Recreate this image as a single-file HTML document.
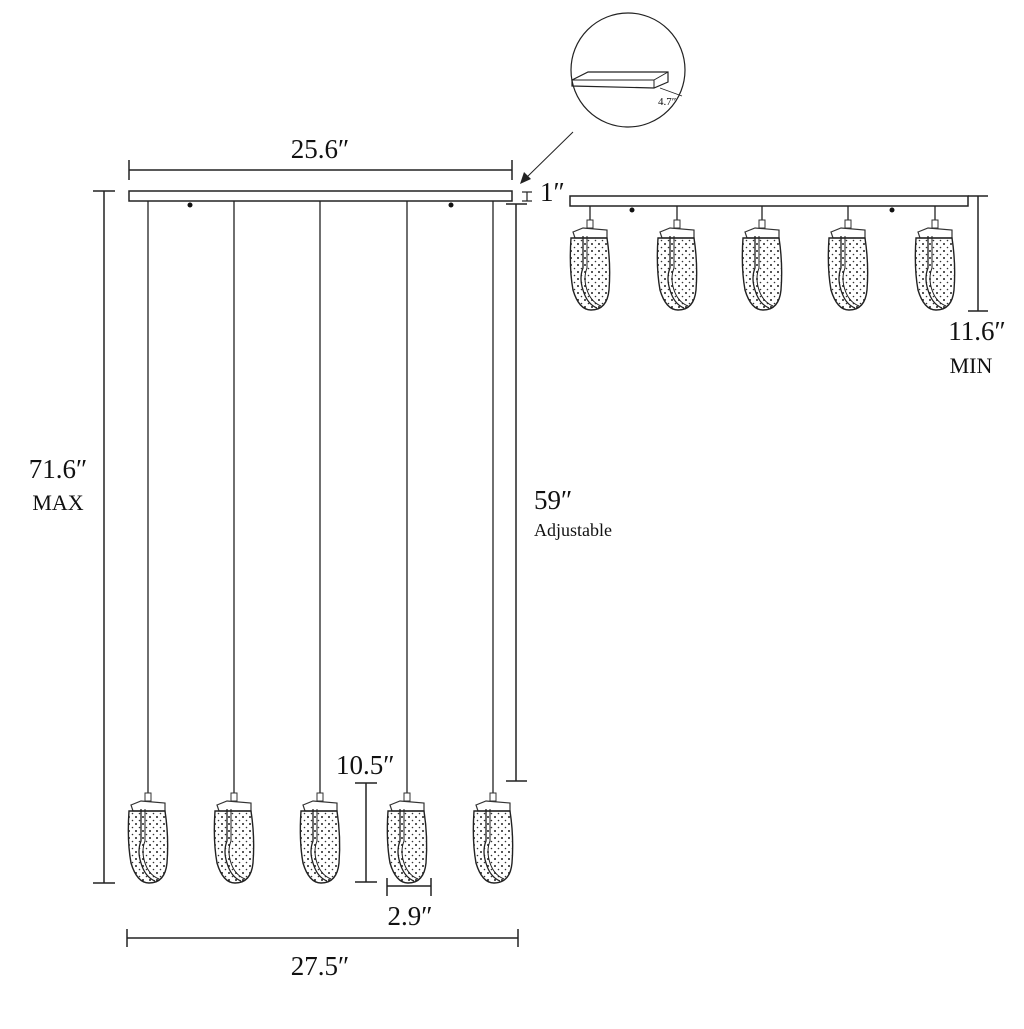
<!DOCTYPE html>
<html><head><meta charset="utf-8"><style>
html,body{margin:0;padding:0;background:#fff}
svg text{font-family:"Liberation Serif",serif;fill:#111}
</style></head><body>
<svg width="1024" height="1024" viewBox="0 0 1024 1024" xmlns="http://www.w3.org/2000/svg">
<defs>
<pattern id="dots" width="7" height="7" patternUnits="userSpaceOnUse">
<circle cx="2" cy="2" r="1" fill="#222"/><circle cx="5.5" cy="5.5" r="0.8" fill="#333"/>
</pattern>
<g id="pend">
<rect x="18" y="-8" width="6" height="8" fill="#fff" stroke="#333" stroke-width="1"/>
<path d="M4 4 L14 0 L38 2 L38 10 L6 10 Z" fill="#fff" stroke="#333" stroke-width="1.2"/>
<path d="M2 10 Q0 40 4 62 Q10 82 22 82 Q38 82 40 62 Q42 36 38 10 L6 10 Z" fill="url(#dots)" stroke="#222" stroke-width="1.4"/>
<path d="M14 8 L14 40 Q10 50 14 62 Q18 76 28 80" fill="none" stroke="#222" stroke-width="1.3"/>
<path d="M18 8 L18 40 Q14 50 18 62 Q22 74 32 78" fill="none" stroke="#222" stroke-width="1"/>
</g>
</defs>
<g stroke="#222" stroke-width="1.5" fill="none">
<line x1="129" y1="170" x2="512" y2="170"/>
<line x1="129" y1="160" x2="129" y2="180"/>
<line x1="512" y1="160" x2="512" y2="180"/>
<rect x="129" y="191" width="383" height="10" fill="#fff"/>
<line x1="527" y1="192" x2="527" y2="201" stroke-width="1.2"/>
<line x1="522" y1="192" x2="532" y2="192" stroke-width="1.2"/>
<line x1="522" y1="201" x2="532" y2="201" stroke-width="1.2"/>
<line x1="573" y1="132" x2="526" y2="178" stroke-width="1"/>
<circle cx="628" cy="70" r="57" stroke-width="1.2"/>
<path d="M572 80 L588 72 L668 72 L668 82 L654 88 L572 86 Z" stroke-width="1.2"/>
<line x1="572" y1="80" x2="654" y2="80" stroke-width="1"/>
<line x1="654" y1="80" x2="668" y2="72" stroke-width="1"/>
<line x1="654" y1="80" x2="654" y2="88" stroke-width="1"/>
<line x1="660" y1="88" x2="682" y2="96" stroke-width="0.8"/>
<line x1="104" y1="191" x2="104" y2="883"/>
<line x1="93" y1="191" x2="115" y2="191"/>
<line x1="93" y1="883" x2="115" y2="883"/>
<line x1="516" y1="204" x2="516" y2="781"/>
<line x1="506" y1="204" x2="527" y2="204"/>
<line x1="506" y1="781" x2="527" y2="781"/>
<line x1="366" y1="783" x2="366" y2="882"/>
<line x1="355" y1="783" x2="377" y2="783"/>
<line x1="355" y1="882" x2="377" y2="882"/>
<line x1="387" y1="886" x2="431" y2="886"/>
<line x1="387" y1="878" x2="387" y2="896"/>
<line x1="431" y1="878" x2="431" y2="896"/>
<line x1="127" y1="938" x2="518" y2="938"/>
<line x1="127" y1="929" x2="127" y2="947"/>
<line x1="518" y1="929" x2="518" y2="947"/>
<line x1="148" y1="201" x2="148" y2="793" stroke-width="1.3"/>
<line x1="234" y1="201" x2="234" y2="793" stroke-width="1.3"/>
<line x1="320" y1="201" x2="320" y2="793" stroke-width="1.3"/>
<line x1="407" y1="201" x2="407" y2="793" stroke-width="1.3"/>
<line x1="493" y1="201" x2="493" y2="793" stroke-width="1.3"/>
<rect x="570" y="196" width="398" height="10" fill="#fff"/>
<line x1="978" y1="196" x2="978" y2="311"/>
<line x1="968" y1="196" x2="988" y2="196"/>
<line x1="968" y1="311" x2="988" y2="311"/>
<line x1="590" y1="206" x2="590" y2="220" stroke-width="1.3"/>
<line x1="677" y1="206" x2="677" y2="220" stroke-width="1.3"/>
<line x1="762" y1="206" x2="762" y2="220" stroke-width="1.3"/>
<line x1="848" y1="206" x2="848" y2="220" stroke-width="1.3"/>
<line x1="935" y1="206" x2="935" y2="220" stroke-width="1.3"/>
</g>
<path d="M520 184 L524 172 L531 179 Z" fill="#222"/>
<g fill="#111">
<circle cx="190" cy="205" r="2.5"/><circle cx="451" cy="205" r="2.5"/>
<circle cx="632" cy="210" r="2.5"/><circle cx="892" cy="210" r="2.5"/>
</g>
<use href="#pend" x="127" y="801"/>
<use href="#pend" x="213" y="801"/>
<use href="#pend" x="299" y="801"/>
<use href="#pend" x="386" y="801"/>
<use href="#pend" x="472" y="801"/>
<use href="#pend" x="569" y="228"/>
<use href="#pend" x="656" y="228"/>
<use href="#pend" x="741" y="228"/>
<use href="#pend" x="827" y="228"/>
<use href="#pend" x="914" y="228"/>
<text x="320" y="158" font-size="27" text-anchor="middle">25.6″</text>
<text x="540" y="201" font-size="27">1″</text>
<text x="658" y="105" font-size="11">4.7″</text>
<text x="58" y="478" font-size="27" text-anchor="middle">71.6″</text>
<text x="58" y="510" font-size="22" text-anchor="middle">MAX</text>
<text x="534" y="509" font-size="27">59″</text>
<text x="534" y="536" font-size="18">Adjustable</text>
<text x="336" y="774" font-size="27">10.5″</text>
<text x="410" y="925" font-size="27" text-anchor="middle">2.9″</text>
<text x="320" y="975" font-size="27" text-anchor="middle">27.5″</text>
<text x="977" y="340" font-size="27" text-anchor="middle">11.6″</text>
<text x="971" y="373" font-size="22" text-anchor="middle">MIN</text>
</svg>
</body></html>
